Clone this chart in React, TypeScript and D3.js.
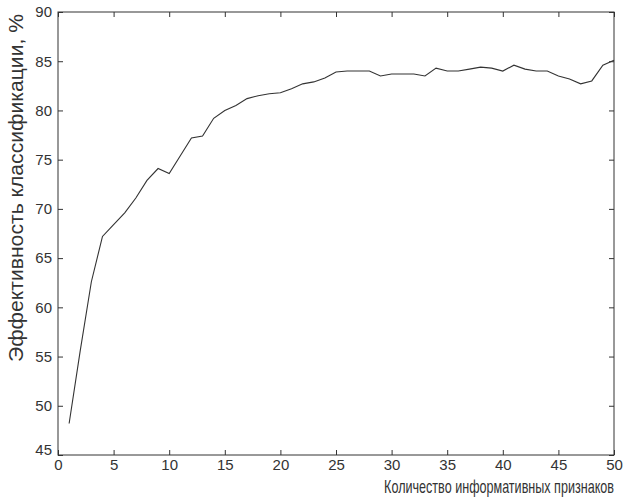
import React, { useEffect, useRef } from "react";
import * as d3 from "d3";

const width = 623;
const height = 502;

// number of features (x) and classification efficiency, % (y)
const features = d3.range(1, 51);
const efficiency = [
  48.2, 55.6, 62.6, 67.2, 68.4, 69.6, 71.1, 72.9, 74.1, 73.6,
  75.4, 77.2, 77.4, 79.2, 80.0, 80.5, 81.2, 81.5, 81.7, 81.8,
  82.2, 82.7, 82.9, 83.3, 83.9, 84.0, 84.0, 84.0, 83.5, 83.7,
  83.7, 83.7, 83.5, 84.3, 84.0, 84.0, 84.2, 84.4, 84.3, 84.0,
  84.6, 84.2, 84.0, 84.0, 83.5, 83.2, 82.7, 83.0, 84.6, 85.1,
];
const xTicks = [0, 5, 10, 15, 20, 25, 30, 35, 40, 45, 50];
const yTicks = [45, 50, 55, 60, 65, 70, 75, 80, 85, 90];
const xLabel = "Количество информативных признаков";
const yLabel = "Эффективность классификации, %";

const App = () => {
  const svgRef = useRef(null);

  useEffect(() => {
    document.body.style.margin = "0";
    const margin = { top: 12, right: 9, bottom: 47, left: 58 };
    const innerWidth = width - margin.left - margin.right;
    const innerHeight = height - margin.top - margin.bottom;
    const font = "'Liberation Sans', Arial, sans-serif";

    const svg = d3.select(svgRef.current);
    svg.selectAll("*").remove();

    const g = svg
      .append("g")
      .attr("transform", `translate(${margin.left},${margin.top})`);

    const xScale = d3.scaleLinear().domain([0, 50]).range([0, innerWidth]);
    const yScale = d3.scaleLinear().domain([45, 90]).range([innerHeight, 0]);

    // box
    g.append("rect")
      .attr("width", innerWidth)
      .attr("height", innerHeight)
      .attr("fill", "white")
      .attr("stroke", "#333")
      .attr("stroke-width", 1);

    // ticks on all sides, pointing inward
    const xAxisBottom = d3.axisBottom(xScale).tickValues(xTicks).tickSizeInner(-5).tickSizeOuter(0).tickPadding(4);
    const xAxisTop = d3.axisTop(xScale).tickValues(xTicks).tickSizeInner(-5).tickSizeOuter(0).tickFormat(() => "");
    const yAxisLeft = d3.axisLeft(yScale).tickValues(yTicks).tickSizeInner(-5).tickSizeOuter(0).tickPadding(6);
    const yAxisRight = d3.axisRight(yScale).tickValues(yTicks).tickSizeInner(-5).tickSizeOuter(0).tickFormat(() => "");

    g.append("g").attr("transform", `translate(0,${innerHeight})`).call(xAxisBottom);
    g.append("g").call(xAxisTop);
    const yAxisG = g.append("g").call(yAxisLeft);
    g.append("g").attr("transform", `translate(${innerWidth},0)`).call(yAxisRight);

    g.selectAll(".domain").remove();
    g.selectAll(".tick line").attr("stroke", "#333");
    g.selectAll(".tick text")
      .attr("fill", "#333")
      .style("font-family", font)
      .style("font-size", "15px");

    // lowest y label sits a little higher, clear of the x labels
    yAxisG.selectAll(".tick text").filter((d) => d === 45).attr("y", -5);

    // the data line
    const line = d3
      .line()
      .x((d, i) => xScale(features[i]))
      .y((d) => yScale(d));

    g.append("path")
      .datum(efficiency)
      .attr("d", line)
      .attr("fill", "none")
      .attr("stroke", "#333")
      .attr("stroke-width", 1.1);

    // axis labels (the x label is set in narrow glyphs, as in the original)
    svg.append("text")
      .attr("transform", `translate(${width - 9}, 493) scale(0.7, 1)`)
      .attr("text-anchor", "end")
      .attr("fill", "#333")
      .style("font-family", font)
      .style("font-size", "18px")
      .text(xLabel);

    svg.append("text")
      .attr("transform", `translate(23, 14) rotate(-90)`)
      .attr("text-anchor", "end")
      .attr("fill", "#333")
      .attr("textLength", 348)
      .attr("lengthAdjust", "spacingAndGlyphs")
      .style("font-family", font)
      .style("font-size", "20px")
      .text(yLabel);
  }, []);

  return <svg ref={svgRef} width={width} height={height}></svg>;
};

export default App;
